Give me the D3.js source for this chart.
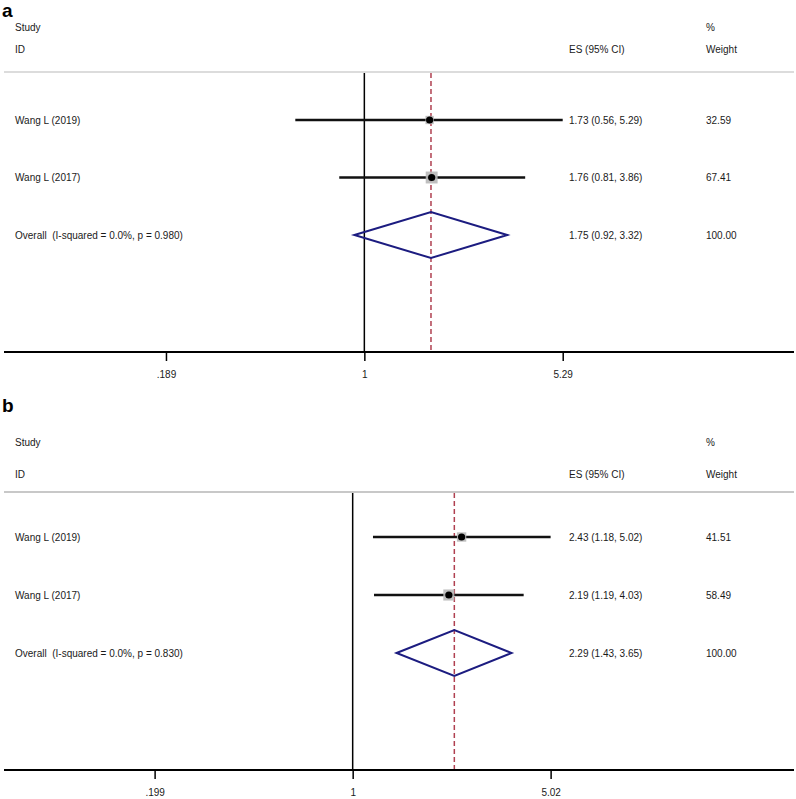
<!DOCTYPE html>
<html><head><meta charset="utf-8">
<script src="https://cdn.jsdelivr.net/npm/d3@7"></script>
<style>
html,body{margin:0;padding:0;background:#fff;}
svg{display:block;}
text{font-family:"Liberation Sans",Arial,sans-serif;fill:#1a1a1a;white-space:pre;}
</style></head>
<body>
<svg id="chart" width="796" height="799"></svg>
<script>
// ---- Data ----
const studiesA = ["Wang L (2019)", "Wang L (2017)"];
const esA = [1.73, 1.76];
const lowA = [0.56, 0.81];
const highA = [5.29, 3.86];
const weightA = [32.59, 67.41];
const overallA = [1.75, 0.92, 3.32];
const overallLabelA = "Overall  (I-squared = 0.0%, p = 0.980)";
const ticksA = [0.189, 1, 5.29];
const tickLabelsA = [".189", "1", "5.29"];

const studiesB = ["Wang L (2019)", "Wang L (2017)"];
const esB = [2.43, 2.19];
const lowB = [1.18, 1.19];
const highB = [5.02, 4.03];
const weightB = [41.51, 58.49];
const overallB = [2.29, 1.43, 3.65];
const overallLabelB = "Overall  (I-squared = 0.0%, p = 0.830)";
const ticksB = [0.199, 1, 5.02];
const tickLabelsB = [".199", "1", "5.02"];

const svg = d3.select("#chart");
const fmt = d3.format(".2f");

function panel(cfg) {
  const g = svg.append("g");
  const x = d3.scaleLog().domain(cfg.domain).range([4, 794]);
  const y = d3.scalePoint().domain([0, 1, 2]).range(cfg.rowRange);
  const hs = "10px";
  const esX = 569, wX = 706;

  // panel letter
  g.append("text").attr("x", 2).attr("y", cfg.letterY)
    .style("font-size", "19px").style("font-weight", "bold").style("fill", "#000").text(cfg.letter);
  // headers
  g.append("text").attr("x", 15).attr("y", cfg.studyY).attr("dy", "0.35em").style("font-size", hs).text("Study");
  g.append("text").attr("x", 15).attr("y", cfg.idY).attr("dy", "0.35em").style("font-size", hs).text("ID");
  g.append("text").attr("x", esX).attr("y", cfg.idY).attr("dy", "0.35em").style("font-size", hs).text("ES (95% CI)");
  g.append("text").attr("x", wX).attr("y", cfg.studyY).attr("dy", "0.35em").style("font-size", hs).text("%");
  g.append("text").attr("x", wX).attr("y", cfg.idY).attr("dy", "0.35em").style("font-size", hs).text("Weight");
  // header rule
  g.append("line").attr("x1", 4).attr("x2", 794).attr("y1", cfg.ruleY).attr("y2", cfg.ruleY)
    .attr("stroke", cfg.ruleColor).attr("stroke-width", 2);

  // null line
  g.append("line").attr("x1", x(1)).attr("x2", x(1)).attr("y1", cfg.ruleY + 1).attr("y2", cfg.axisY)
    .attr("stroke", "#000").attr("stroke-width", 1.5);
  // overall dashed line
  g.append("line").attr("x1", x(cfg.overall[0])).attr("x2", x(cfg.overall[0]))
    .attr("y1", cfg.ruleY + 1).attr("y2", cfg.axisY)
    .attr("stroke", "#b04050").attr("stroke-width", 1.5).attr("stroke-dasharray", "5,3");

  // studies
  cfg.studies.forEach((s, i) => {
    const yy = y(i);
    g.append("line").attr("x1", x(cfg.low[i])).attr("x2", x(cfg.high[i])).attr("y1", yy).attr("y2", yy)
      .attr("stroke", "#111").attr("stroke-width", 2.5);
    const side = 1.45 * Math.sqrt(cfg.weight[i]);
    g.append("rect").attr("x", x(cfg.es[i]) - side / 2).attr("y", yy - side / 2)
      .attr("width", side).attr("height", side).attr("fill", "#b8b8b8").attr("opacity", 0.9);
    g.append("circle").attr("cx", x(cfg.es[i])).attr("cy", yy).attr("r", 3.6).attr("fill", "#000");
    g.append("text").attr("x", 15).attr("y", yy).attr("dy", "0.35em").style("font-size", hs).text(s);
    g.append("text").attr("x", esX).attr("y", yy).attr("dy", "0.35em").style("font-size", hs)
      .text(`${fmt(cfg.es[i])} (${fmt(cfg.low[i])}, ${fmt(cfg.high[i])})`);
    g.append("text").attr("x", wX).attr("y", yy).attr("dy", "0.35em").style("font-size", hs).text(fmt(cfg.weight[i]));
  });

  // overall diamond
  const oy = y(2), hh = 23;
  const o = cfg.overall;
  g.append("path")
    .attr("d", d3.line()([[x(o[1]), oy], [x(o[0]), oy - hh], [x(o[2]), oy], [x(o[0]), oy + hh]]) + "Z")
    .attr("fill", "none").attr("stroke", "#1c1c80").attr("stroke-width", 2);
  g.append("text").attr("x", 15).attr("y", oy).attr("dy", "0.35em").style("font-size", hs).text(cfg.overallLabel);
  g.append("text").attr("x", esX).attr("y", oy).attr("dy", "0.35em").style("font-size", hs)
    .text(`${fmt(o[0])} (${fmt(o[1])}, ${fmt(o[2])})`);
  g.append("text").attr("x", wX).attr("y", oy).attr("dy", "0.35em").style("font-size", hs).text("100.00");

  // axis
  const axis = d3.axisBottom(x).tickValues(cfg.ticks).tickSize(9).tickPadding(10)
    .tickFormat((d, i) => cfg.tickLabels[i]);
  const ag = g.append("g").attr("transform", `translate(0,${cfg.axisY})`).call(axis);
  ag.select(".domain").attr("stroke", "#000").attr("stroke-width", 2).attr("d", `M4,0H794`);
  ag.selectAll(".tick line").attr("stroke", "#000").attr("stroke-width", 1.5);
  ag.selectAll(".tick text").style("font-size", "10px").style("font-family", "Liberation Sans, Arial, sans-serif").attr("fill", "#1a1a1a");
}

panel({
  letter: "a", letterY: 17, studyY: 27, idY: 49, ruleY: 72, ruleColor: "#dcdcdc",
  rowRange: [120, 235], axisY: 352,
  domain: [0.0485, 36.9],
  studies: studiesA, es: esA, low: lowA, high: highA, weight: weightA,
  overall: overallA, overallLabel: overallLabelA, ticks: ticksA, tickLabels: tickLabelsA
});
panel({
  letter: "b", letterY: 412, studyY: 442, idY: 474, ruleY: 492, ruleColor: "#c8c8c8",
  rowRange: [537, 653], axisY: 770,
  domain: [0.0583, 36.5],
  studies: studiesB, es: esB, low: lowB, high: highB, weight: weightB,
  overall: overallB, overallLabel: overallLabelB, ticks: ticksB, tickLabels: tickLabelsB
});
</script>
</body></html>
